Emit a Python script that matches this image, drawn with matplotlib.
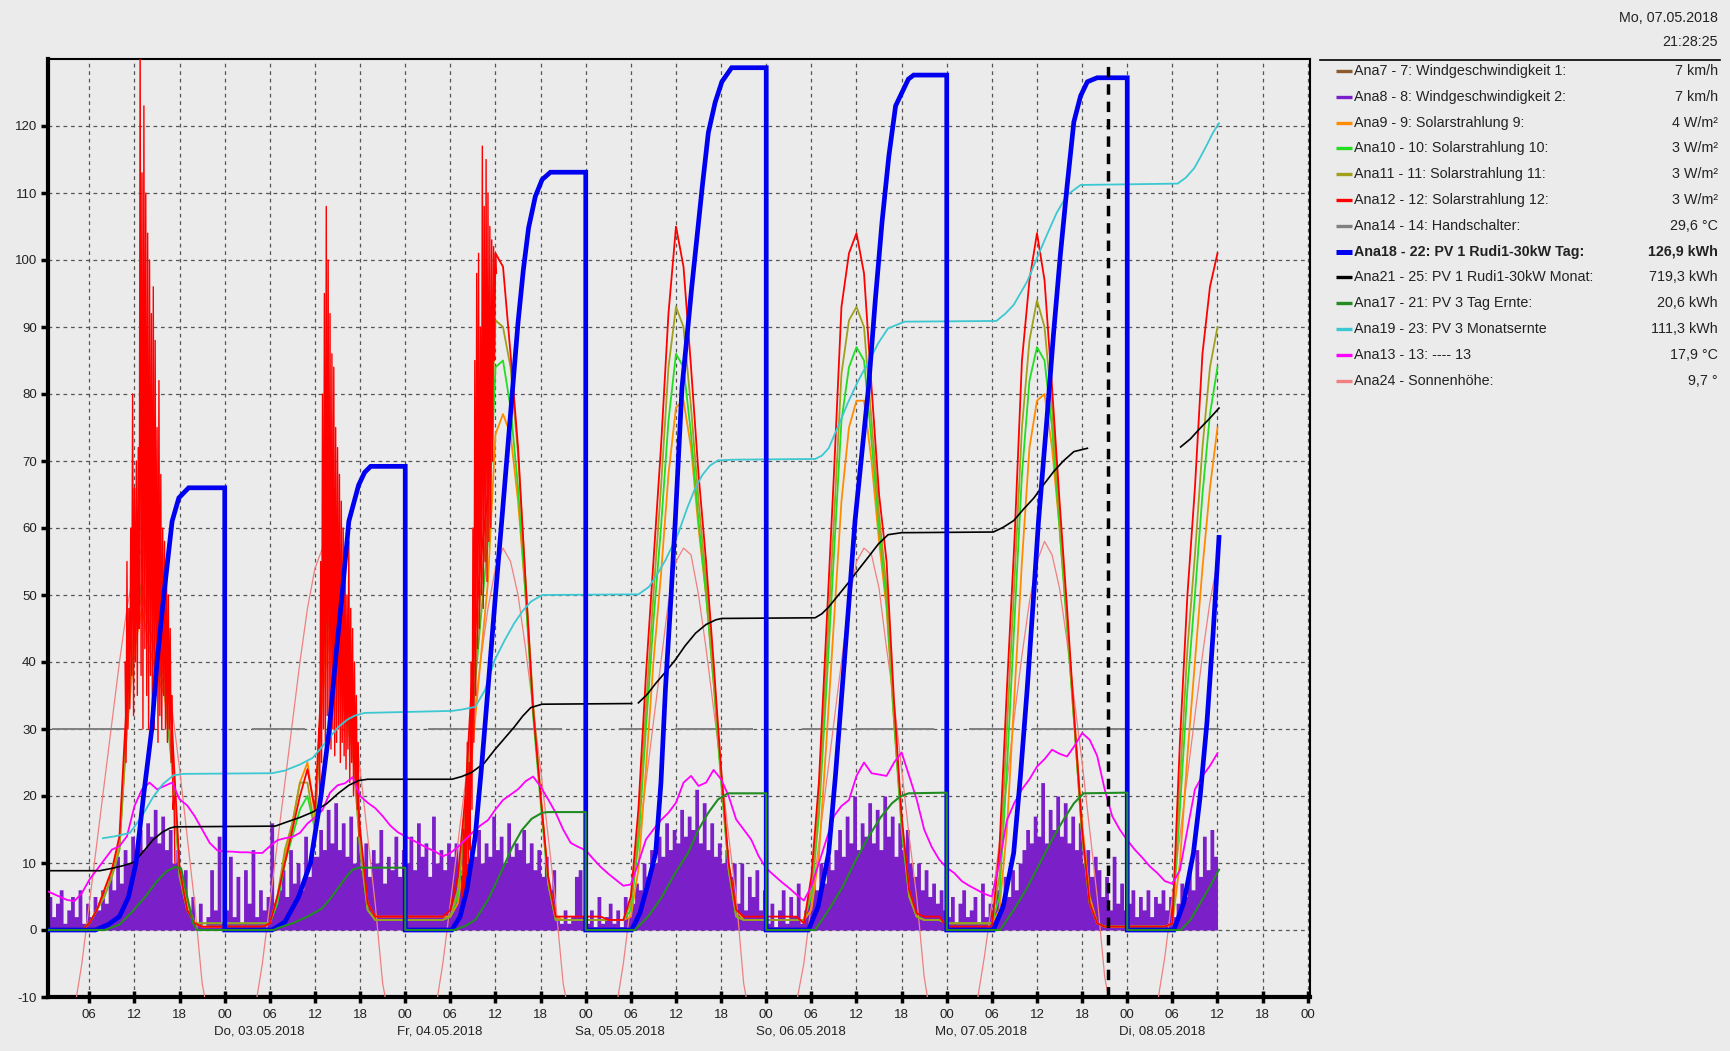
import numpy as np
import matplotlib
matplotlib.use("Agg")
import matplotlib.pyplot as plt
from matplotlib.lines import Line2D

plt.rcParams["font.family"] = ["Liberation Sans", "DejaVu Sans"]
plt.rcParams["axes.unicode_minus"] = False

BG = "#ebebeb"

# time axis in hours, 0 = Mi 02.05.2018 00:00
hours = np.arange(0, 157)            # hourly samples up to Di 08.05. 12:00
half_hours = np.arange(0, 156.5, 0.5)

# Ana12 - Solarstrahlung 12 (red), hourly
red_12 = [
    0, 0, 0, 0, 0, 0, 1, 3, 6, 9, 14, 35, 55, 70, 60, 50, 44, 30, 9, 3, 1, 0.5, 0.5, 0.5,
    0.5, 0.5, 0.5, 0.5, 0.5, 0.5, 1, 5, 10, 15, 20, 24, 18, 40, 55, 45, 35, 30, 15, 4, 2, 2, 2, 2,
    2, 2, 2, 2, 2, 2, 3, 8, 20, 40, 55, 65, 101, 99, 86, 72, 52, 33, 20, 8, 2, 2, 2, 2,
    2, 2, 2, 1.5, 1.5, 1.5, 5, 18, 38, 55, 72, 92, 105, 99, 84, 68, 55, 40, 24, 10, 3, 2, 2, 2,
    2, 2, 2, 2, 2, 1, 8, 22, 45, 68, 93, 101, 104, 98, 81, 65, 55, 34, 17, 6, 2.5, 2, 2, 2,
    0.5, 0.5, 0.5, 0.5, 0.5, 0.5, 0.5, 12, 36, 58, 85, 97, 104, 97, 81, 64, 48, 31, 15, 4, 1, 0.5, 0.5, 0.5,
    0.5, 0.5, 0.5, 0.5, 0.5, 0.5, 1, 28, 50, 66, 86, 96, 101,
]
# Ana11 - Solarstrahlung 11 (olive)
olive_11 = [
    0, 0, 0, 0, 0, 0, 1, 3, 5, 8, 12, 30, 45, 50, 45, 40, 38, 25, 8, 3, 1, 1, 1, 1,
    1, 1, 1, 1, 1, 1, 1, 5, 12, 16, 22, 22, 15, 38, 48, 40, 32, 27, 12, 3, 1.5, 1.5, 1.5, 1.5,
    1.5, 1.5, 1.5, 1.5, 1.5, 1.5, 2, 6, 18, 36, 50, 62, 91, 90, 84, 71, 52, 34, 20, 7, 1.5, 1.5, 1.5, 1.5,
    1.5, 1.5, 1.5, 1.5, 1.5, 1.5, 4, 15, 33, 50, 66, 84, 93, 90, 78, 64, 52, 38, 23, 9, 2, 1.5, 1.5, 1.5,
    1.5, 1.5, 1.5, 1.5, 1.5, 1.5, 6, 19, 40, 61, 83, 91, 93, 90, 76, 62, 51, 32, 16, 5, 2, 1.5, 1.5, 1.5,
    1, 1, 1, 1, 1, 1, 1, 8, 30, 52, 75, 88, 94, 90, 78, 62, 46, 30, 14, 4, 1, 0.5, 0.5, 0.5,
    0.5, 0.5, 0.5, 0.5, 0.5, 0.5, 1, 22, 42, 56, 72, 84, 90,
]
# Ana10 - Solarstrahlung 10 (green)
green_10 = [
    0, 0, 0, 0, 0, 0, 1, 3, 5, 8, 12, 32, 45, 52, 45, 40, 36, 24, 8, 3, 1, 1, 1, 1,
    1, 1, 1, 1, 1, 1, 1, 4, 10, 14, 18, 20, 15, 40, 50, 42, 33, 28, 12, 3, 1.5, 1.5, 1.5, 1.5,
    1.5, 1.5, 1.5, 1.5, 1.5, 1.5, 2, 5, 16, 33, 46, 58, 84, 85, 78, 66, 50, 32, 19, 7, 1.5, 1.5, 1.5, 1.5,
    1.5, 1.5, 1.5, 1.5, 1.5, 1.5, 3, 13, 30, 46, 60, 76, 86, 84, 74, 61, 50, 37, 22, 9, 2, 1.5, 1.5, 1.5,
    1.5, 1.5, 1.5, 1.5, 1.5, 1.5, 5, 17, 36, 56, 76, 84, 87, 85, 73, 60, 49, 31, 15, 5, 2, 1.5, 1.5, 1.5,
    1, 1, 1, 1, 1, 1, 1, 5, 24, 46, 68, 82, 87, 85, 75, 60, 45, 30, 14, 4, 1, 0.5, 0.5, 0.5,
    0.5, 0.5, 0.5, 0.5, 0.5, 0.5, 1, 18, 36, 50, 65, 77, 84,
]
# Ana9 - Solarstrahlung 9 (orange)
orange_9 = [
    0, 0, 0, 0, 0, 0, 1, 3, 6, 9, 13, 30, 42, 48, 42, 38, 35, 25, 9, 4, 1, 0.5, 0.5, 0.5,
    0.5, 0.5, 0.5, 0.5, 0.5, 0.5, 1, 5, 11, 16, 22, 25, 17, 35, 45, 40, 33, 28, 13, 4, 2, 2, 2, 2,
    2, 2, 2, 2, 2, 2, 2, 4, 12, 28, 40, 52, 74, 77, 74, 64, 50, 33, 20, 8, 2, 1.5, 1.5, 1.5,
    1.5, 1.5, 1.5, 1.5, 1.5, 1.5, 2, 9, 24, 40, 53, 68, 78, 79, 72, 60, 50, 37, 23, 10, 3, 1.5, 1.5, 1.5,
    1.5, 1.5, 1.5, 1.5, 1.5, 1.5, 3, 11, 28, 46, 64, 75, 79, 79, 70, 58, 48, 31, 16, 6, 2, 1.5, 1.5, 1.5,
    1, 1, 1, 1, 1, 1, 1, 3, 15, 35, 55, 72, 79, 80, 72, 60, 46, 31, 16, 5, 1, 0.5, 0.5, 0.5,
    0.5, 0.5, 0.5, 0.5, 0.5, 0.5, 1, 10, 26, 40, 54, 66, 75,
]
# Ana13 - temperature (magenta)
temp_13 = [
    6, 5.5, 5, 4.5, 4.3, 5.5, 7.5, 9, 10.5, 12, 12.5, 14, 18.5, 21, 22, 21, 21.5, 22, 19.5, 18.6, 17, 15, 13, 11.9,
    11.7, 11.7, 11.6, 11.6, 11.5, 11.5, 12.5, 13.4, 13.7, 13.9, 14.5, 15.9, 16.8, 17.9, 20.5, 21.6, 21.9, 22.8, 20, 19, 18.2, 17, 15.6, 14.6,
    14, 13.4, 12.8, 12.2, 11.7, 11, 11.5, 12.4, 13.5, 14.6, 15.6, 16.4, 18, 19.4, 20.2, 21, 22.2, 22.9, 21.4, 19.5, 17.5, 15, 13, 12.4,
    11.9, 10.6, 9.4, 8.4, 7.5, 6.6, 6.8, 10, 13.5, 15, 16.4, 17.5, 19, 22, 23, 21.5, 22, 23.9, 22.5, 20, 16.5, 15, 13.5, 11,
    9.2, 8.2, 7.2, 6.3, 5.3, 4.4, 6.5, 10, 13.5, 17, 18.5, 19.4, 23, 25, 23.4, 23.2, 23, 25, 26.5, 23, 19.5, 15, 12.4, 10.5,
    9.3, 8.5, 7.3, 6.6, 6, 5.4, 5, 10, 16.4, 19, 21, 22.5, 24.4, 25.5, 26.9, 26.3, 25.9, 27.5, 29.4, 28.4, 26, 21, 17, 15,
    13.4, 12, 10.8, 9.5, 8.5, 7.3, 6.9, 8.9, 15, 21, 23, 24.5, 26.4,
]
# Ana24 - Sonnenhoehe (light coral)
sun_24 = [
    -18, -20, -19, -16, -12, -5, 4, 13, 22, 31, 40, 48, 54, 57, 55, 50, 42, 33, 24, 14, 4, -8, -14, -17,
    -18, -20, -19, -16, -12, -5, 4, 13, 22, 31, 40, 48, 54, 57, 55, 50, 42, 33, 24, 14, 4, -8, -14, -17,
    -18, -20, -19, -16, -12, -5, 4, 13, 22, 31, 40, 48, 54, 57, 55, 50, 42, 33, 24, 14, 4, -8, -14, -17,
    -18, -20, -19, -16, -12, -5, 4, 13, 22, 31, 40, 49, 55, 57, 56, 50, 42, 33, 24, 14, 5, -8, -14, -17,
    -18, -20, -19, -16, -11, -5, 4, 13, 22, 31, 40, 49, 55, 57, 56, 51, 42, 34, 24, 14, 5, -7, -14, -17,
    -18, -20, -19, -16, -11, -4, 4, 13, 22, 32, 41, 49, 55, 58, 56, 51, 43, 34, 25, 15, 5, -7, -13, -17,
    -18, -20, -19, -16, -11, -4, 5, 14, 23, 32, 41, 49, 55,
]
# Ana8 - Windgeschwindigkeit 2 (purple), half-hourly
wind_2 = [
    3, 5, 2, 4, 6, 1, 3, 5, 2, 6, 1, 4, 2, 5, 3, 6, 4, 8, 6, 11, 7, 12, 10, 14,
    11, 15, 12, 16, 14, 18, 13, 17, 12, 15, 10, 12, 7, 9, 3, 5, 1, 4, 0.5, 2, 9, 3, 14, 1,
    3, 11, 2, 8, 1, 9, 4, 12, 2, 6, 3, 5, 16, 4, 6, 9, 5, 12, 7, 10, 6, 14, 8, 11,
    11, 15, 12, 18, 13, 19, 12, 16, 11, 17, 10, 14, 9, 13, 8, 12, 10, 15, 7, 11, 9, 14, 8, 12,
    10, 14, 9, 16, 11, 13, 8, 17, 10, 12, 9, 13, 11, 13, 9, 14, 10, 12, 11, 15,
    10, 13, 11, 17, 12, 14, 10, 16, 11, 13, 12, 15, 10, 13, 9, 12, 8, 11, 6, 9, 2, 1, 3, 1, 2, 8, 9, 2,
    1, 3, 0.5, 5, 1, 2, 4, 1, 3, 0.5, 5, 2, 4, 7, 6, 10, 8, 12, 10, 14, 11, 16, 12, 15,
    13, 18, 14, 17, 15, 21, 13, 19, 12, 16, 11, 13, 10, 12, 8, 10, 4, 10, 3, 8, 5, 9, 3, 6,
    1, 4, 0.5, 3, 6, 1, 5, 2, 7, 1, 3, 5, 8, 6, 10, 7, 11, 9,
    12, 15, 11, 17, 13, 20, 12, 16, 14, 19, 13, 18, 12, 20, 14, 17, 11, 16, 12, 15, 10, 8, 10, 6, 9, 5, 7, 4, 6, 3,
    2, 5, 1, 4, 6, 2, 3, 5, 1, 7, 2, 4, 3, 6, 4, 8, 5, 9, 6, 10,
    12, 15, 13, 17, 14, 22, 13, 18, 15, 20, 14, 19, 13, 17, 12, 16, 10, 12, 8, 11, 9, 5, 8, 3, 11, 4, 7, 3,
    4, 6, 2, 5, 3, 6, 2, 5, 4, 6, 3, 5, 2, 4, 7, 5, 9, 6, 12, 8, 14, 9, 15, 11, 18,
]
# cloudy periods of Ana12: peaks / troughs every 15 min
red_noise_start = [10.75, 36.5, 55.5]
red_noise_hi = [
    [40, 55, 48, 60, 80, 66, 70, 72, 135, 113, 123, 110, 104, 100, 92, 96, 88, 75, 82, 68, 60, 58, 55, 50, 45, 35, 20],
    [30, 55, 80, 95, 108, 100, 92, 86, 84, 75, 72, 68, 64, 60, 55, 50, 58, 48, 45, 40, 35, 28],
    [8, 15, 20, 28, 25, 40, 60, 85, 98, 101, 90, 117, 108, 115, 110, 105, 103, 102, 101],
]
red_noise_lo = [
    [25, 30, 33, 38, 32, 40, 35, 45, 38, 30, 42, 35, 30, 38, 32, 30, 35, 28, 32, 30, 35, 30, 28, 30, 25, 18, 10],
    [20, 25, 30, 28, 32, 30, 27, 30, 26, 28, 30, 25, 28, 26, 24, 27, 22, 25, 20, 22, 18, 14],
    [3, 6, 8, 10, 12, 18, 28, 35, 42, 45, 50, 48, 55, 52, 58, 60, 70, 85, 98],
]

# Ana18 - PV 1 Tag (blue), breakpoints
blue_t = [0, 6.8, 8.5, 10, 11.2, 12.2, 13.2, 14.3, 15, 15.9, 17, 17.9, 19.2, 24, 24,
          30.3, 32, 33.8, 35.4, 36.8, 37.9, 38.7, 39.6, 40.5, 41.8, 42.6, 43.4, 48, 48,
          54.2, 55.3, 56.2, 57.3, 58.2, 59, 60, 60.9, 62, 63, 63.7, 64.4, 65.3, 66.2, 67.3, 72, 72,
          78.1, 79.2, 80.3, 81.3, 82, 82.6, 83.3, 83.9, 84.8, 85.5, 86.1, 87.5, 88.3, 89.2, 90.1, 91.4, 96, 96,
          101.6, 102.9, 104.3, 105.2, 106.1, 107, 107.8, 108.7, 109.6, 110.5, 111.4, 112.3, 113.2, 114.9, 115.6, 120, 120,
          126.2, 127.5, 128.9, 129.8, 130.7, 131.5, 132.2, 133.3, 134.2, 135.1, 136, 136.9, 137.8, 138.7, 140, 144, 144,
          150.2, 151.5, 152.8, 153.7, 154.6, 155.4, 156.2]
blue_v = [0, 0, 0.8, 2, 4.9, 10, 20, 30, 40, 50, 61, 64.5, 66, 66, 0,
          0, 1.2, 4.9, 10, 20, 30, 40, 50, 61, 66.4, 68.3, 69.2, 69.2, 0,
          0, 2, 6, 13.9, 25, 36, 50, 62, 77, 90.7, 98.5, 104.8, 109.5, 112, 113.1, 113.1, 0,
          0, 2.5, 7, 11.5, 22, 36, 49, 61, 81, 89, 96, 111, 119, 123.5, 126.6, 128.7, 128.7, 0,
          0, 3.5, 11.5, 23, 36, 49, 61, 71, 81, 94, 105.7, 115.5, 123, 127, 127.6, 127.6, 0,
          0, 3.5, 11.5, 23, 36, 49, 61, 76, 89, 100.7, 111, 120.6, 124.5, 126.6, 127.2, 127.2, 0,
          0, 4, 11.5, 20, 31, 44, 58.6]

# Ana17 - PV 3 Tag Ernte (dark green), breakpoints
pv3_t = [0, 8.1, 10, 11.5, 13.4, 15, 16.3, 17.4, 18.2, 19, 19.8, 20.3,
         30.5, 31.1, 33, 35, 36.9, 38, 39.1, 40.2, 41, 41.8, 48, 48,
         54.5, 56, 57.3, 59, 60.9, 62.2, 63.5, 64.8, 66.2, 67, 72, 72,
         78.5, 80.3, 82.1, 83.9, 85.6, 87, 88.3, 89.6, 90.9, 96, 96,
         102.5, 104.3, 106.1, 107.8, 109.6, 111.2, 112.7, 113.8, 114.9, 120, 120,
         127.1, 128.9, 130.7, 132.4, 134.2, 135.6, 136.9, 138.2, 144, 144,
         151.1, 152.4, 153.7, 155, 156.2]
pv3_v = [0, 0, 0.8, 2.5, 4.9, 7.3, 8.8, 9.4, 9.2, 5, 1, 0,
         0, 0.3, 1, 2, 3.2, 4.6, 6.3, 8, 9, 9.3, 9.3, 0,
         0, 0.6, 1.5, 4.5, 9, 12.3, 14.9, 16.6, 17.5, 17.6, 17.6, 0,
         0, 2, 4.9, 8.5, 11.5, 15, 17.5, 19.5, 20.4, 20.4, 0,
         0, 3, 6.3, 10.2, 13.9, 16.8, 18.9, 19.9, 20.4, 20.5, 0,
         0, 3, 6.3, 10, 13.9, 16.6, 18.9, 20.4, 20.5, 0,
         0, 1.5, 4, 6.5, 9]

# Ana21 - PV 1 Monat (black), breakpoints (nan = gap)
month1_t = [0, 7.4, 9, 10.5, 11.9, 13.4, 14.5, 15.7, 16.7, 17.4, 30.7, 32.2, 34, 35.7, 37.5, 39.1, 40.5,
            41.8, 43, 54.2, 55.5, 56.8, 58.5, 59.9, 61.2, 62.5, 63.6, 64.7, 66.2, 78.1, 78.5,
            79, 80.2, 81.3, 82.6, 83.9, 85.2, 86.6, 88, 89.3, 90.1, 102.5, 103.4, 104.3, 105.6, 106.9,
            108.2, 109.6, 110.9, 112.2, 114, 126.2, 127.5, 128.9, 130.2, 131.6, 132.9, 134.2, 135.5,
            136.9, 138.7, 140, 151.1, 152.4, 153.7, 155, 156.2]
month1_v = [8.85, 8.85, 9.2, 9.6, 10.1, 12, 13.5, 14.6, 15.2, 15.4, 15.5, 16.1, 16.8, 17.6, 18.8, 20.4, 21.6,
            22.3, 22.5, 22.5, 22.9, 23.5, 24.9, 26.9, 28.6, 30.3, 31.9, 33.2, 33.7, 33.8, np.nan,
            33.9, 35.2, 36.8, 38.5, 40.3, 42.4, 44.3, 45.6, 46.3, 46.5, 46.6, 47.2, 48.2, 50, 51.8,
            53.7, 55.7, 57.6, 59, 59.3, 59.4, 60.1, 61.1, 62.8, 64.5, 66.5, 68.4, 70,
            71.4, 71.9, np.nan, 72.1, 73.3, 74.9, 76.4, 77.9]

# Ana19 - PV 3 Monatsernte (cyan), breakpoints
month3_t = [7.8, 9.5, 11.4, 13, 14.5, 15.8, 17.2, 18.5, 30.3, 32, 34, 35.7, 36.9, 38, 39.1, 40.3, 41.3, 42.6,
            54.2, 55.5, 57.3, 58.6, 59.9, 61.2, 62.5, 63.6, 64.7, 66.2, 79, 80.4, 81.5, 82.6, 83.5, 84.3,
            85.5, 86.5, 87.5, 88.5, 89.6, 91.8, 102.5, 103.4, 104.3, 105.6, 106.9, 108.2, 109.6, 110.9,
            112.2, 114.4, 126.6, 127.8, 128.9, 130.7, 132, 133.3, 134.6, 136, 137.8, 150.7, 151.8,
            152.9, 153.7, 154.6, 155.4, 156.2]
month3_v = [13.7, 14, 14.5, 17, 19.9, 21.8, 23.1, 23.3, 23.4, 23.8, 24.7, 25.7, 27.3, 28.8, 30.3, 31.4, 32, 32.4,
            32.7, 32.9, 33.3, 35.8, 40.3, 43.2, 45.8, 47.6, 49, 50, 50.1, 51.2, 53.1, 55.2, 57.3, 59.2,
            63, 65.8, 67.9, 69.3, 70.1, 70.2, 70.3, 70.8, 71.9, 75.3, 78.8, 81.9, 84.8, 87.6,
            89.8, 90.8, 90.9, 92, 93.3, 96.8, 100.3, 103.7, 107, 109.7, 111.2, 111.4, 112.3,
            113.7, 115.3, 117.2, 119, 120.4]

# Ana14 - Handschalter (grey), periods at 30
switch_on = [1, 27.6, 51, 76.4, 83.9, 100.8, 107.8, 123, 131.4, 150.7]
switch_off = [11.2, 34.7, 68.8, 80.4, 94.2, 106.6, 118.3, 129.2, 144, 156.2]
switch_level = 30

cursor_h = 141.5

day_labels = ["Do, 03.05.2018", "Fr, 04.05.2018", "Sa, 05.05.2018",
              "So, 06.05.2018", "Mo, 07.05.2018", "Di, 08.05.2018"]

legend_rows = [
    ("Ana7 - 7: Windgeschwindigkeit 1:", "7 km/h", "#8c5a2c"),
    ("Ana8 - 8: Windgeschwindigkeit 2:", "7 km/h", "#7b1fc8"),
    ("Ana9 - 9: Solarstrahlung 9:", "4 W/m²", "#ff8c00"),
    ("Ana10 - 10: Solarstrahlung 10:", "3 W/m²", "#22dd22"),
    ("Ana11 - 11: Solarstrahlung 11:", "3 W/m²", "#a0a01e"),
    ("Ana12 - 12: Solarstrahlung 12:", "3 W/m²", "#ff0000"),
    ("Ana14 - 14: Handschalter:", "29,6 °C", "#808080"),
    ("Ana18 - 22: PV 1 Rudi1-30kW Tag:", "126,9 kWh", "#0000f0"),
    ("Ana21 - 25: PV 1 Rudi1-30kW Monat:", "719,3 kWh", "#000000"),
    ("Ana17 - 21: PV 3 Tag Ernte:", "20,6 kWh", "#228b22"),
    ("Ana19 - 23: PV 3 Monatsernte", "111,3 kWh", "#3cc8d2"),
    ("Ana13 - 13: ---- 13", "17,9 °C", "#ff00ff"),
    ("Ana24 - Sonnenhöhe:", "9,7 °", "#f08080"),
]

for s in (red_12, olive_11, green_10, orange_9, temp_13, sun_24):
    assert len(s) == len(hours), len(s)
assert len(wind_2) == len(half_hours), len(wind_2)
assert len(blue_t) == len(blue_v) and len(pv3_t) == len(pv3_v)
assert len(month1_t) == len(month1_v) and len(month3_t) == len(month3_v)

W, H = 1731, 1051
fig = plt.figure(figsize=(W / 100, H / 100), dpi=100, facecolor=BG)
ax = fig.add_axes([48 / W, 1 - 997 / H, (1310 - 48) / W, (997 - 59) / H], facecolor=BG)

# data
ax.fill_between(half_hours, 0, wind_2, step="post", color="#7b1fc8", lw=0, zorder=2)
ax.plot(hours, sun_24, color="#f08080", lw=0.9, zorder=3)
ax.hlines([switch_level] * len(switch_on), switch_on, switch_off, color="#808080", lw=1.4, zorder=3)
ax.plot(hours, orange_9, color="#ff8c00", lw=1.3, zorder=4)
ax.plot(hours, green_10, color="#22dd22", lw=1.3, zorder=4.1)
ax.plot(hours, olive_11, color="#a0a01e", lw=1.3, zorder=4.2)
ax.plot(hours, red_12, color="#ff0000", lw=1.3, zorder=4.3)
for start, hi, lo in zip(red_noise_start, red_noise_hi, red_noise_lo):
    t = start + 0.25 * np.arange(len(hi))
    tt = np.column_stack([t, t + 0.125]).ravel()
    vv = np.column_stack([hi, lo]).ravel()
    ax.plot(tt, vv, color="#ff0000", lw=1.0, zorder=4.3)
ax.plot(hours, temp_13, color="#ff00ff", lw=1.3, zorder=5)
ax.plot(month3_t, month3_v, color="#3cc8d2", lw=1.3, zorder=5)
ax.plot(month1_t, month1_v, color="#000000", lw=1.2, zorder=5)
ax.plot(blue_t, blue_v, color="#0000f0", lw=3.4, zorder=6, solid_joinstyle="miter")
ax.plot(pv3_t, pv3_v, color="#228b22", lw=1.5, zorder=6.5)
ax.axvline(cursor_h, color="black", lw=2.5, ls=(0, (3, 2)), zorder=7)

# axes
ax.set_xlim(0.5, 168.3)
ax.set_ylim(-10, 130)
xt = np.arange(6, 169, 6)
ax.set_xticks(xt)
ax.set_xticklabels(["%02d" % (t % 24) for t in xt])
ax.set_yticks(np.arange(-10, 121, 10))
ax.set_axisbelow(True)
ax.grid(True, color="#555555", lw=0.9, ls=(0, (3, 3)))
ax.tick_params(axis="y", direction="out", length=5, width=2.5, labelsize=9.5, pad=3, colors="black",
               labelcolor="#222222")
ax.tick_params(axis="x", direction="inout", length=8, width=2.5, labelsize=9.5, pad=5, colors="black",
               labelcolor="#222222")
for side, lw in (("left", 3), ("bottom", 3), ("top", 1.5), ("right", 1.5)):
    ax.spines[side].set_linewidth(lw)
    ax.spines[side].set_color("black")

for i, lab in enumerate(day_labels):
    ax.text(24 * (i + 1) + 4.6, -0.037, lab, transform=ax.get_xaxis_transform(),
            ha="center", va="center", fontsize=9.5, color="#222222")

# header and legend on the right
fig.text(1718 / W, 1 - 18 / H, "Mo, 07.05.2018", ha="right", va="center", fontsize=10.3, color="#222222")
fig.text(1718 / W, 1 - 42 / H, "21:28:25", ha="right", va="center", fontsize=10.3, color="#222222")
fig.add_artist(Line2D([1320 / W, 1720 / W], [1 - 60 / H, 1 - 60 / H], transform=fig.transFigure,
                      color="black", lw=1.2))
for i, (lab, val, col) in enumerate(legend_rows):
    y = 1 - (71 + i * 25.8) / H
    bold = lab.startswith("Ana18")
    fig.add_artist(Line2D([1336 / W, 1352 / W], [y, y], transform=fig.transFigure,
                          color=col, lw=3.6 if bold else 2.4, solid_capstyle="butt"))
    fw = "bold" if bold else "normal"
    fig.text(1354 / W, y, lab, ha="left", va="center", fontsize=10.3, color="#222222", fontweight=fw)
    fig.text(1718 / W, y, val, ha="right", va="center", fontsize=10.3, color="#222222", fontweight=fw)

fig.savefig("out.png", dpi=100, facecolor=BG)
